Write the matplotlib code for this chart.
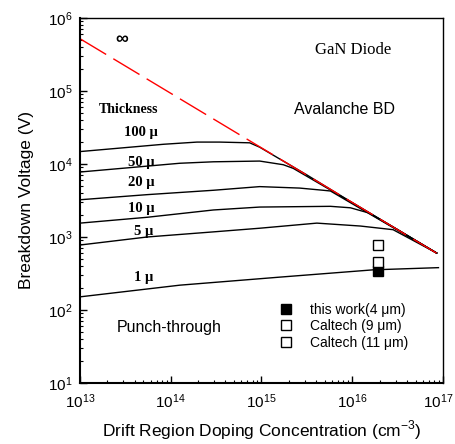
import numpy as np
import matplotlib
matplotlib.use('Agg')
import matplotlib.pyplot as plt
from matplotlib.lines import Line2D
from matplotlib.ticker import LogLocator, NullFormatter
from matplotlib.transforms import ScaledTranslation

plt.rcParams['font.family'] = ['Liberation Sans', 'DejaVu Sans']
plt.rcParams['mathtext.fontset'] = 'custom'
plt.rcParams['mathtext.rm'] = 'Liberation Sans'

# avalanche breakdown limit
aval_N = [1e13, 8.5e16]
aval_V = [5.2e5, 6.0e2]

# punch-through curves, log10(N) and log10(V)
thick_labels = ['100 \u03bc', '50 \u03bc', '20 \u03bc', '10 \u03bc', '5 \u03bc', '1 \u03bc']
logN_100 = [13.0, 13.92, 14.29, 14.54, 14.87, 14.98, 15.5, 16.0, 16.5, 16.93]
logV_100 = [4.17, 4.27, 4.30, 4.30, 4.29, 4.23, 3.85, 3.47, 3.10, 2.78]
logN_50 = [13.0, 14.10, 14.47, 14.98, 15.24, 15.35, 16.0, 16.5, 16.93]
logV_50 = [3.89, 4.01, 4.03, 4.04, 3.99, 3.94, 3.47, 3.10, 2.78]
logN_20 = [13.0, 13.74, 14.47, 14.98, 15.42, 15.68, 15.76, 16.2, 16.93]
logV_20 = [3.51, 3.58, 3.64, 3.69, 3.67, 3.64, 3.63, 3.31, 2.78]
logN_10 = [13.0, 13.74, 14.47, 14.98, 15.76, 15.98, 16.18, 16.5, 16.93]
logV_10 = [3.19, 3.27, 3.37, 3.41, 3.42, 3.40, 3.33, 3.10, 2.78]
logN_5 = [13.0, 13.74, 14.47, 14.98, 15.61, 16.09, 16.45, 16.93]
logV_5 = [2.89, 3.00, 3.07, 3.12, 3.19, 3.15, 3.10, 2.78]
logN_1 = [13.0, 14.10, 15.20, 16.23, 16.95]
logV_1 = [2.18, 2.34, 2.45, 2.55, 2.58]

curves = [(logN_100, logV_100), (logN_50, logV_50), (logN_20, logV_20),
          (logN_10, logV_10), (logN_5, logV_5), (logN_1, logV_1)]

# measured points
meas_labels = ['this work(4 \u03bcm)', 'Caltech (9 \u03bcm)', 'Caltech (11 \u03bcm)']
meas_N = [1.9e16, 1.9e16, 1.9e16]
meas_V = [342, 455, 775]
meas_fill = ['black', 'white', 'white']

fig = plt.figure(figsize=(4.56, 4.44), dpi=100)
ax = fig.add_axes([0.1754, 0.1374, 0.7961, 0.8221])

for lx, ly in curves:
    ax.plot(10 ** np.array(lx), 10 ** np.array(ly), color='black', lw=1.0)

ax.plot(aval_N, aval_V, color='red', lw=1.0, dashes=(22, 6))

for n, v, fc in zip(meas_N, meas_V, meas_fill):
    ax.plot([n], [v], marker='s', ms=6.5, mfc=fc, mec='black', mew=1.0, ls='none')

ax.set_xscale('log')
ax.set_yscale('log')
ax.set_xlim(1e13, 1e17)
ax.set_ylim(1e1, 1e6)

for sp in ['top', 'right']:
    ax.spines[sp].set_linewidth(1.0)
for sp in ['left', 'bottom']:
    ax.spines[sp].set_linewidth(1.5)

ax.xaxis.set_major_locator(LogLocator(base=10, numticks=10))
ax.yaxis.set_major_locator(LogLocator(base=10, numticks=10))
ax.xaxis.set_minor_locator(LogLocator(base=10, subs=np.arange(2, 10), numticks=20))
ax.yaxis.set_minor_locator(LogLocator(base=10, subs=np.arange(2, 10), numticks=20))
ax.xaxis.set_minor_formatter(NullFormatter())
ax.yaxis.set_minor_formatter(NullFormatter())
ax.tick_params(which='major', direction='in', length=5, width=1.0, labelsize=11)
ax.tick_params(axis='x', which='major', pad=7)
ax.tick_params(axis='y', which='major', pad=5.5)
ax.tick_params(which='minor', direction='in', length=2.5, width=0.8)
ax.tick_params(top=False, right=False)

# nudge the 10^17 label left so it stays inside the figure
ax.set_xticks([1e13, 1e14, 1e15, 1e16, 1e17])
last = ax.xaxis.get_major_ticks()[-1].label1
last.set_transform(last.get_transform() + ScaledTranslation(-5 / 100, 0, fig.dpi_scale_trans))

ax.set_xlabel('Drift Region Doping Concentration (cm$^{-3}$)', fontsize=12.5, labelpad=5)
ax.set_ylabel('Breakdown Voltage (V)', fontsize=12.5, labelpad=10)

serif = ['Liberation Serif', 'DejaVu Serif']
ax.text(0.753, 0.912, 'GaN Diode', transform=ax.transAxes, ha='center', va='center',
        fontsize=12, family=serif)
ax.text(0.729, 0.748, 'Avalanche BD', transform=ax.transAxes, ha='center', va='center', fontsize=11.5)
ax.text(0.135, 0.748, 'Thickness', transform=ax.transAxes, ha='center', va='center',
        fontsize=10, family=serif, weight='bold')
lab_x = [0.168, 0.17, 0.17, 0.17, 0.174, 0.174]
lab_y = [0.685, 0.605, 0.548, 0.479, 0.414, 0.29]
for t, xx, yy in zip(thick_labels, lab_x, lab_y):
    ax.text(xx, yy, t, transform=ax.transAxes, ha='center', va='center',
            fontsize=10.5, family=serif, weight='bold')
ax.text(0.114, 0.94, '\u221e', transform=ax.transAxes, ha='center', va='center',
        fontsize=13, weight='bold')
ax.text(0.245, 0.153, 'Punch-through', transform=ax.transAxes, ha='center', va='center', fontsize=11.5)

handles = [Line2D([], [], marker='s', ms=6.5, mfc=fc, mec='black', ls='none') for fc in meas_fill]
ax.legend(handles, meas_labels, loc='upper left', bbox_to_anchor=(0.515, 0.235), frameon=False,
          fontsize=10, handletextpad=0.7, labelspacing=0.18, borderaxespad=0)

fig.savefig('out.png', dpi=100)
